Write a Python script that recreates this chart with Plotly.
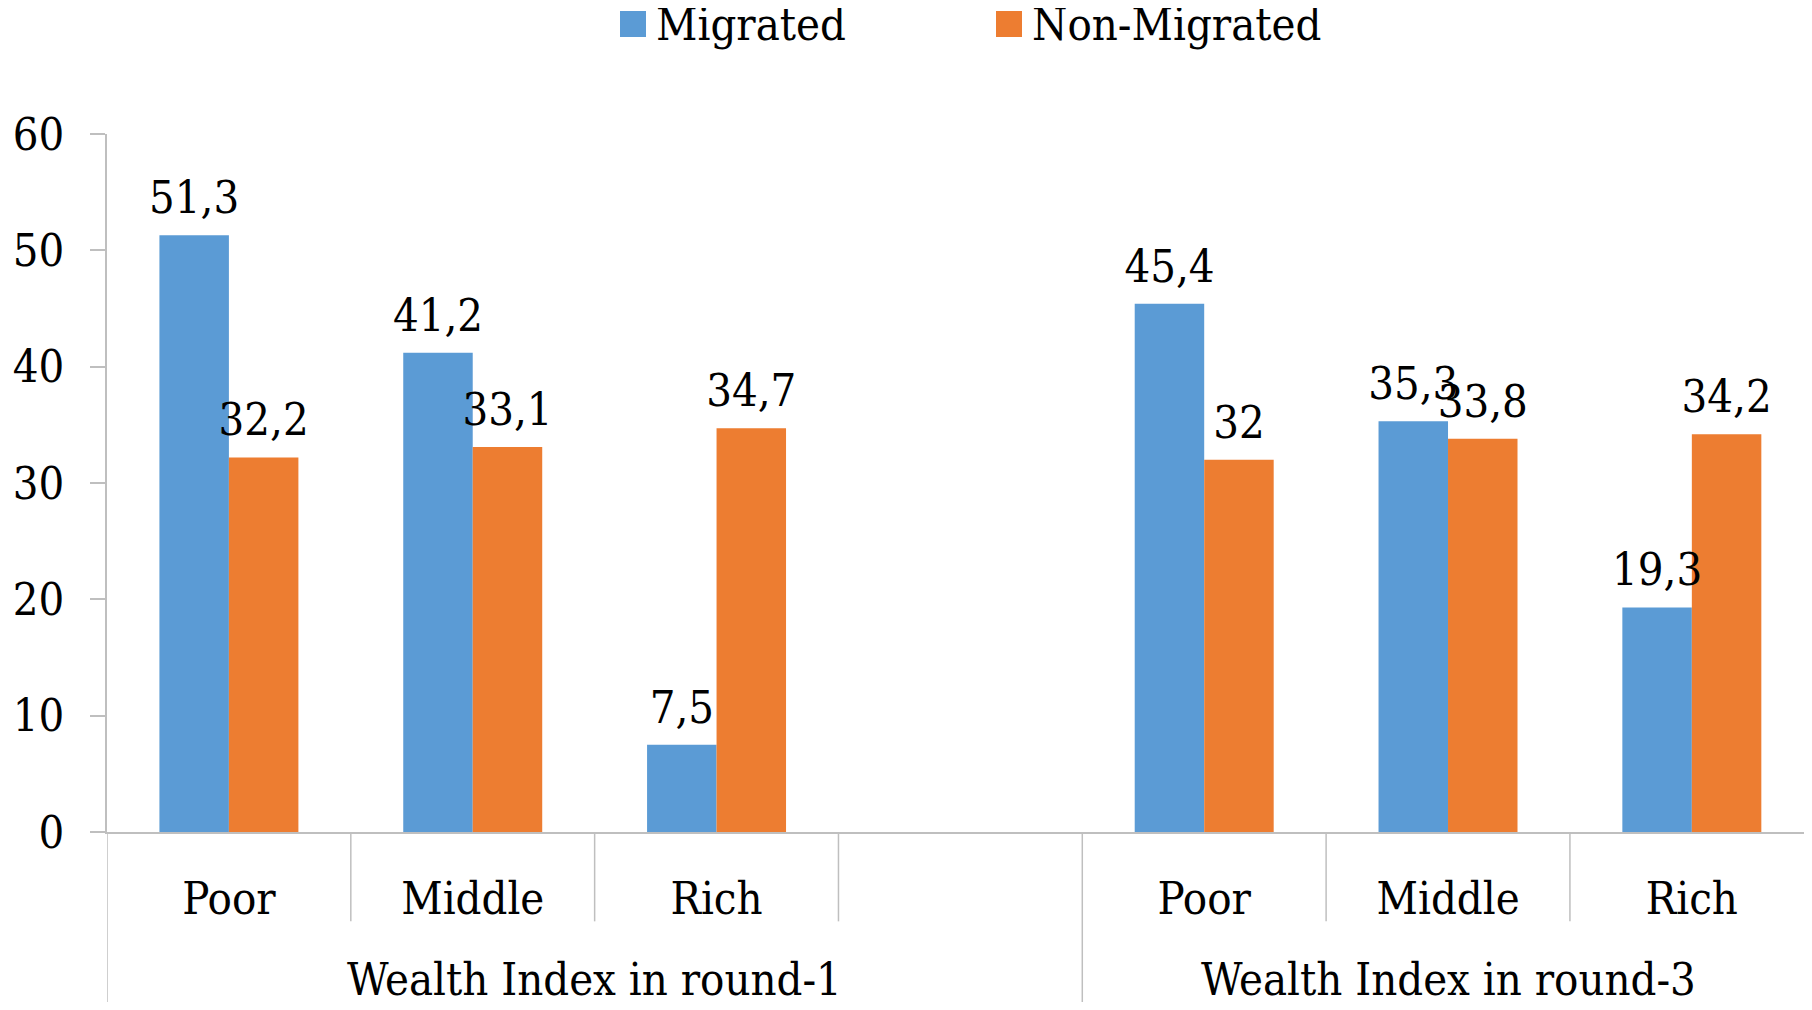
import plotly.graph_objects as go

# data
rounds = ["Wealth Index in round-1", "Wealth Index in round-3"]
levels = ["Poor", "Middle", "Rich"]
series = ["Migrated", "Non-Migrated"]
migrated = [51.3, 41.2, 7.5, 45.4, 35.3, 19.3]
non_migrated = [32.2, 33.1, 34.7, 32.0, 33.8, 34.2]
y_ticks = [0, 10, 20, 30, 40, 50, 60]

FONT = "DejaVu Serif Condensed, DejaVu Serif, serif"
FS = 45
BLUE = "#5B9BD5"
ORANGE = "#ED7D31"
AXIS = "#BFBFBF"
BAR_W = 0.285
LABEL_LIFT = 0.7  # extra gap between bar top and its value label (y units)

# figure geometry (px); page body has an 8px margin so the figure is 8px smaller
W, H = 1796, 994
ML, MT, MB = 99, 126, 170
PW, PH = W - ML, H - MT - MB

# round-1 group has an empty 4th slot, round-3 has 3 slots
slots_per_round = [4, 3]
x_pos = []
start = 0
for n in slots_per_round:
    x_pos += [start + i for i in range(len(levels))]
    start += n
n_slots = sum(slots_per_round)


def fmt(v):
    s = f"{v:.1f}".replace(".", ",")
    return s[:-2] if s.endswith(",0") else s


def px_x(p):
    return (p - ML) / PW


def px_y(p):
    return 1 + (MT - p) / PH


fig = go.Figure()
bar_specs = list(zip(series, [migrated, non_migrated], [BLUE, ORANGE], [-BAR_W, 0]))

# bars first
for name, vals, col, off in bar_specs:
    fig.add_trace(go.Bar(
        x=x_pos, y=vals, name=name, showlegend=False,
        offset=off, width=BAR_W,
        marker=dict(color=col, line=dict(width=0)),
        hovertemplate="%{y}<extra>" + name + "</extra>",
    ))

# value labels on top of all bars (transparent copies of the bars)
for name, vals, col, off in bar_specs:
    fig.add_trace(go.Bar(
        x=x_pos, y=vals, base=LABEL_LIFT, name=name, showlegend=False,
        offset=off, width=BAR_W,
        marker=dict(color="rgba(0,0,0,0)", line=dict(width=0)),
        text=[fmt(v) for v in vals],
        textposition="outside",
        textfont=dict(family=FONT, size=FS, color="black"),
        constraintext="none",
        cliponaxis=False,
        hoverinfo="skip",
    ))

shapes = []
annotations = []

# category dividers below the axis
for k in range(n_slots + 1):
    xk = k - 0.5
    big = k in (0, slots_per_round[0])
    shapes.append(dict(
        type="line", xref="x", yref="paper",
        x0=xk, x1=xk, y0=0, y1=-0.26 if big else -0.128,
        line=dict(color=AXIS, width=1.5),
    ))

# round labels under the category labels
start = 0
for r, n in zip(rounds, slots_per_round):
    annotations.append(dict(
        x=start - 0.5 + n / 2, y=-0.212, xref="x", yref="paper",
        text=r, showarrow=False, yanchor="middle",
        font=dict(family=FONT, size=FS, color="black"),
    ))
    start += n

# legend at the top: big square swatch + label
SW = 26
legend_left = [612, 988]
legend_mid = 16
for name, col, lx in zip(series, [BLUE, ORANGE], legend_left):
    shapes.append(dict(
        type="rect", xref="paper", yref="paper",
        x0=px_x(lx), x1=px_x(lx + SW),
        y0=px_y(legend_mid + SW / 2), y1=px_y(legend_mid - SW / 2),
        fillcolor=col, line=dict(width=0),
    ))
    annotations.append(dict(
        x=px_x(lx + SW + 8), y=px_y(legend_mid), xref="paper", yref="paper",
        text=name, showarrow=False, xanchor="left", yanchor="middle",
        font=dict(family=FONT, size=FS, color="black"),
    ))

fig.update_layout(
    width=W, height=H,
    barmode="overlay", showlegend=False,
    plot_bgcolor="white", paper_bgcolor="white",
    margin=dict(l=ML, r=0, t=MT, b=MB, autoexpand=False),
    font=dict(family=FONT, size=FS, color="black"),
    xaxis=dict(
        range=[-0.5, n_slots - 0.54],
        tickvals=x_pos,
        ticktext=levels * len(rounds),
        ticks="", showgrid=False, zeroline=False,
        showline=True, linecolor=AXIS, linewidth=1.5,
        ticklabelstandoff=26, automargin=False,
        tickfont=dict(family=FONT, size=FS, color="black"),
    ),
    yaxis=dict(
        range=[0, 60], tickvals=y_ticks,
        ticks="outside", ticklen=15, tickcolor=AXIS, tickwidth=1.5,
        showgrid=False, zeroline=False,
        showline=True, linecolor=AXIS, linewidth=1.5,
        ticklabelstandoff=17, automargin=False,
        tickfont=dict(family=FONT, size=FS, color="black"),
    ),
    shapes=shapes,
    annotations=annotations,
)

fig.write_html("out.html")
